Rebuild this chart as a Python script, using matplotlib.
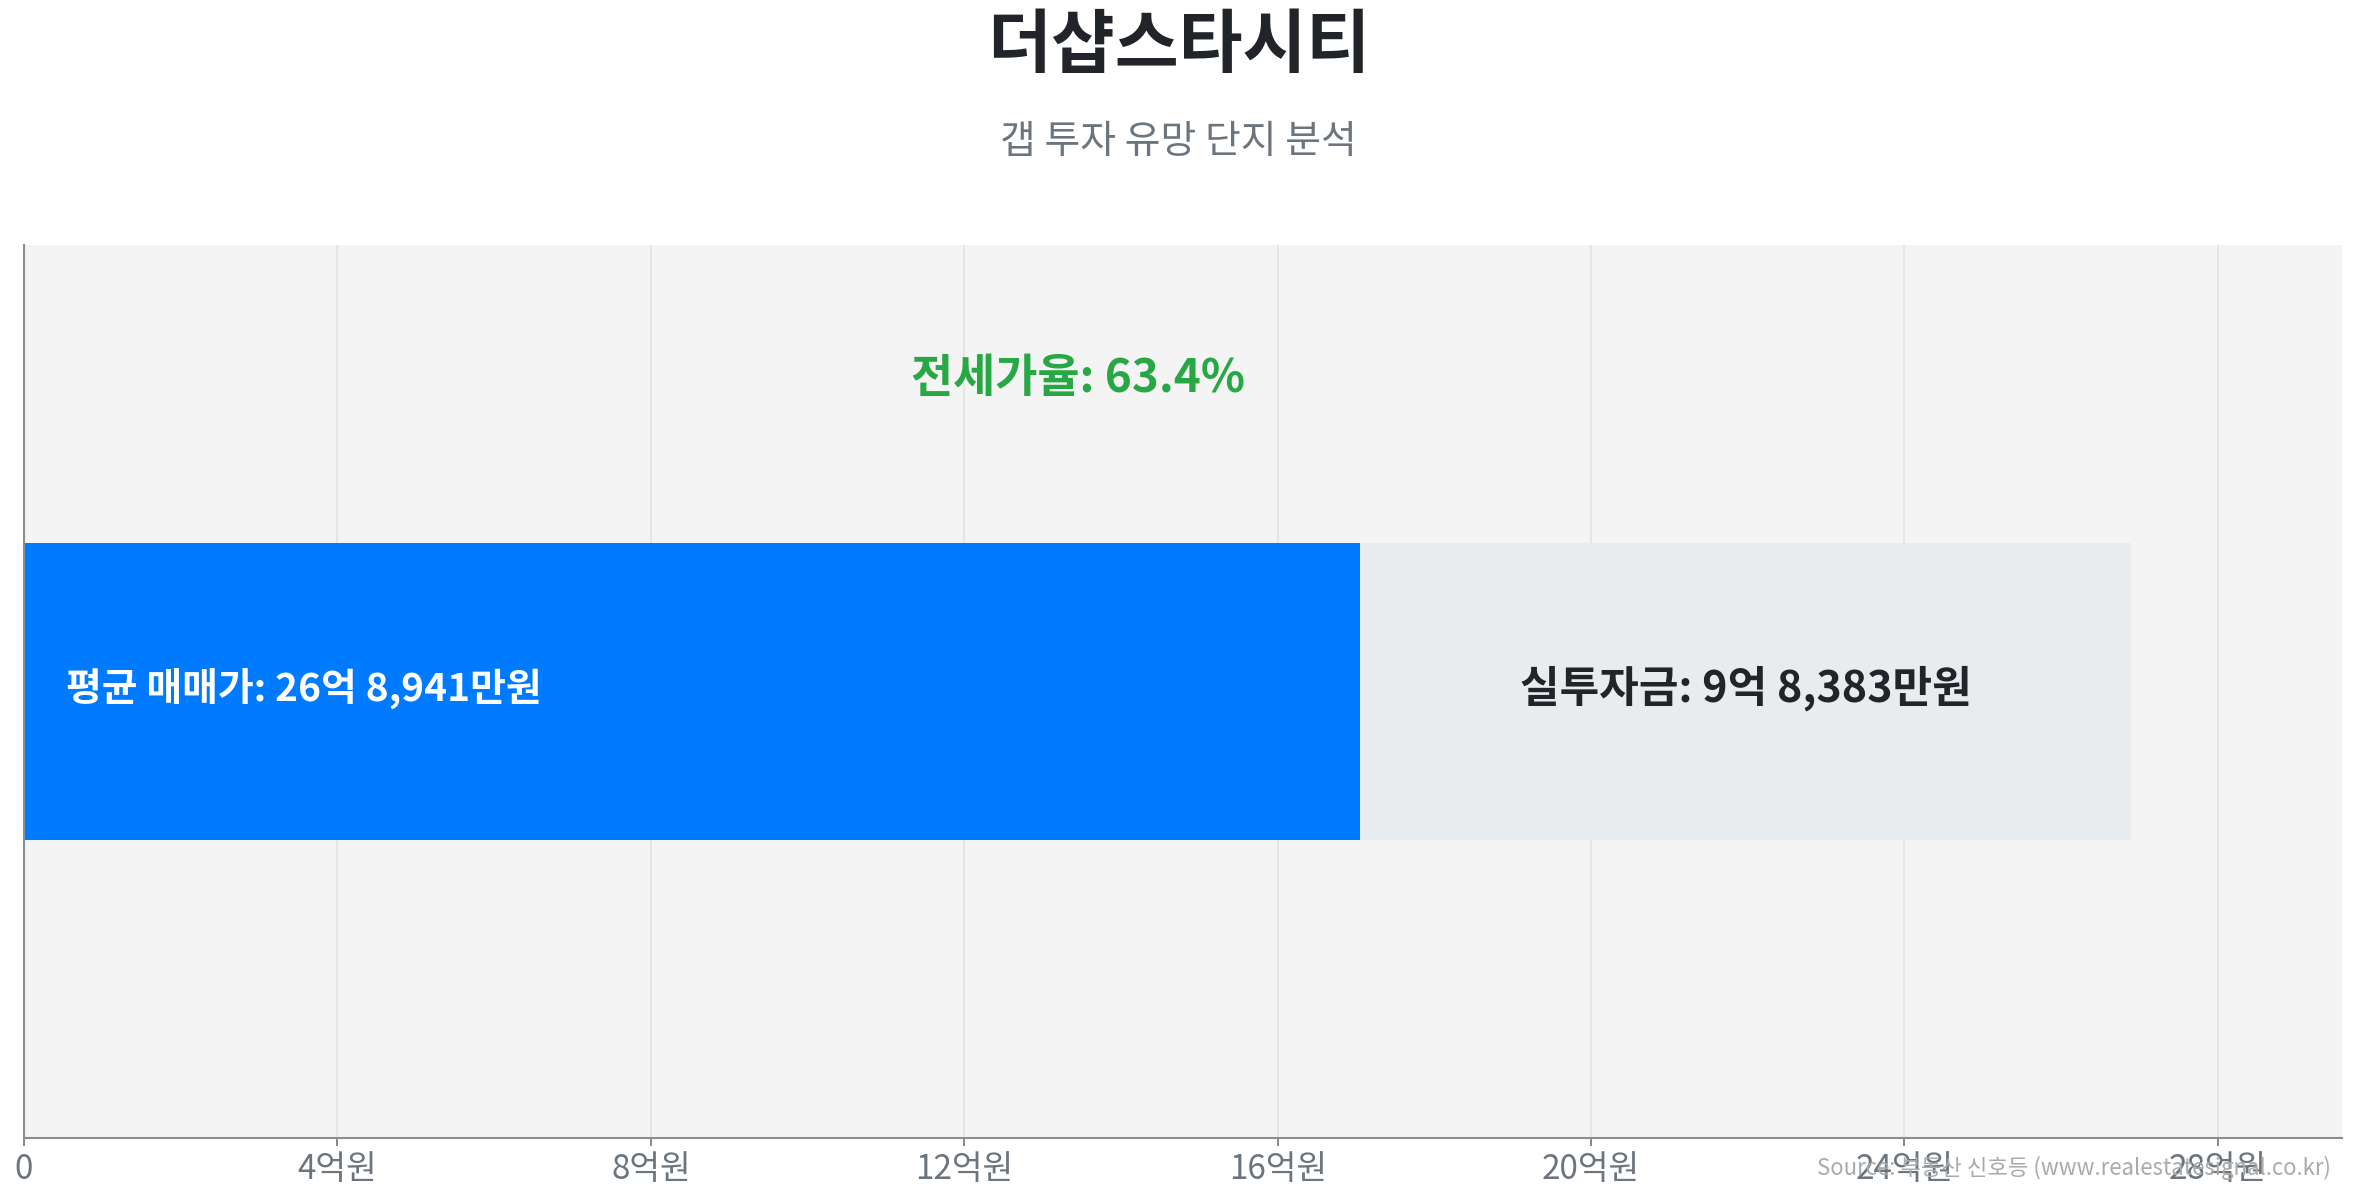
import numpy as np
import matplotlib
matplotlib.use("Agg")
import matplotlib.pyplot as plt
from matplotlib.ticker import FixedLocator, FuncFormatter

plt.rcParams['font.family'] = ['Noto Sans CJK KR', 'DejaVu Sans']

# Data (단위: 억원)
TITLE = "더샵스타시티"
SUBTITLE = "갭 투자 유망 단지 분석"
SOURCE = "Source: 부동산 신호등 (www.realestatesignal.co.kr)"
sale_price = 26.8941       # 평균 매매가
invest_cash = 9.8383       # 실투자금
jeonse_ratio = 63.4        # 전세가율 (%)
sale_label = "평균 매매가: 26억 8,941만원"
invest_label = "실투자금: 9억 8,383만원"
ratio_label = f"전세가율: {jeonse_ratio}%"
x_ticks = [0, 4, 8, 12, 16, 20, 24, 28]

BLUE = '#007bff'
LIGHT = '#e9ecef'
GREEN = '#28a745'
DARK = '#212529'
MUTED = '#6c757d'

jeonse = sale_price - invest_cash

fig = plt.figure(figsize=(23.57, 12), dpi=100)
fig.patch.set_facecolor('white')
ax = fig.add_axes([0.0102, 0.0517, 0.9834, 0.7443])
ax.set_facecolor('#f4f4f4')

# Bars
ax.barh(0, jeonse, height=1.0, color=BLUE, zorder=2)
ax.barh(0, invest_cash, left=jeonse, height=1.0, color=LIGHT, zorder=2)

# Labels
ax.text(sale_price * 0.02, 0.01, sale_label, color='white', fontsize=28,
        fontweight='bold', ha='left', va='center', zorder=3)
ax.text(jeonse + invest_cash / 2, 0.01, invest_label, color=DARK, fontsize=31,
        fontweight='bold', ha='center', va='center', zorder=3)
ax.text(sale_price / 2, 1.05, ratio_label, color=GREEN, fontsize=33,
        fontweight='bold', ha='center', va='center', zorder=3)

# Axes
ax.set_xlim(0, sale_price * 1.1)
ax.set_ylim(-1.5, 1.5)
ax.xaxis.set_major_locator(FixedLocator(x_ticks))
ax.xaxis.set_major_formatter(FuncFormatter(lambda v, p: "0" if v == 0 else f"{int(v)}억원"))
ax.set_yticks([])
ax.tick_params(axis='x', colors=MUTED, labelsize=24, length=6, width=1.2, pad=4)
ax.grid(axis='x', color='#e2e2e2', linewidth=1.2, zorder=0)
ax.set_axisbelow(True)
for side in ['top', 'right']:
    ax.spines[side].set_visible(False)
for side in ['left', 'bottom']:
    ax.spines[side].set_color('#868e96')
    ax.spines[side].set_linewidth(1.5)

# Titles
fig.text(0.5, 0.961, TITLE, ha='center', va='center', fontsize=50,
         fontweight='bold', color=DARK)
fig.text(0.5, 0.882, SUBTITLE, ha='center', va='center', fontsize=28,
         color=MUTED)
fig.text(0.989, 0.027, SOURCE, ha='right', va='center', fontsize=16,
         color='#aaaaaa')

fig.savefig("out.png", dpi=100, facecolor='white')
